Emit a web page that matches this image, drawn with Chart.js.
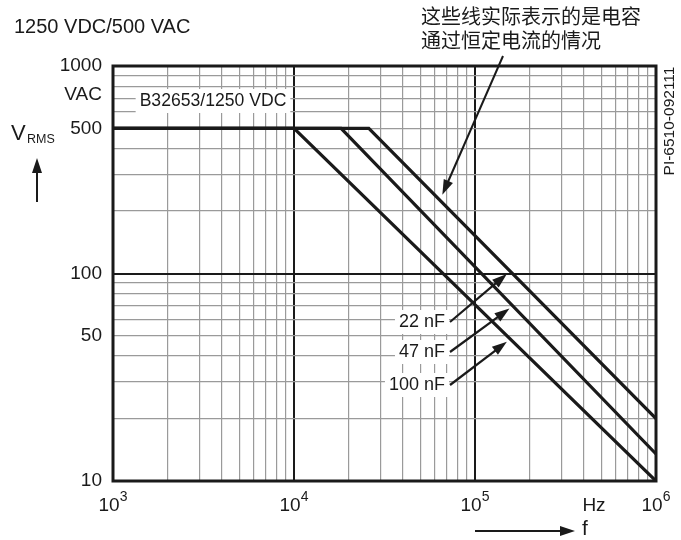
<!DOCTYPE html>
<html>
<head>
<meta charset="utf-8">
<script src="https://cdn.jsdelivr.net/npm/chart.js@4"></script>
<style>
  html, body { margin: 0; padding: 0; background: #fff; }
  canvas { display: block; }
</style>
</head>
<body>
<canvas id="chart" width="681" height="540"></canvas>
<script>
// frequency (Hz) / voltage (V rms) breakpoints of each curve
const freq100 = [1e3, 1e4, 1e6]
const volt100 = [500, 500, 10]
const freq47 = [1e3, 1.82e4, 1e6]
const volt47 = [500, 500, 13.5]
const freq22 = [1e3, 2.59e4, 1e6]
const volt22 = [500, 500, 20]

const capLabels = ['22 nF', '47 nF', '100 nF']
const yTickLabels = [10, 50, 100, 500, 1000]
const xDecades = [1e3, 1e4, 1e5, 1e6]
const xExponents = ['3', '4', '5', '6']

const FONT = '"Liberation Sans", Arial, sans-serif'
const CJK = '"Noto Sans CJK SC", sans-serif'

function gridValues(min, max) {
    let out = []
    for (let d = min; d < max; d *= 10) {
        for (let m = 1; m <= 9; m++) out.push(Number((m * d).toPrecision(3)))
    }
    out.push(max)
    return out
}

function isDecade(v) {
    let l = Math.log10(v)
    return Math.abs(l - Math.round(l)) < 1e-6
}

// log-log interpolation along a curve
function voltAt(freqs, volts, f) {
    for (let i = 0; i < freqs.length - 1; i++) {
        if (f >= freqs[i] && f <= freqs[i + 1]) {
            let t = (Math.log10(f) - Math.log10(freqs[i])) / (Math.log10(freqs[i + 1]) - Math.log10(freqs[i]))
            return Math.pow(10, Math.log10(volts[i]) + t * (Math.log10(volts[i + 1]) - Math.log10(volts[i])))
        }
    }
    return volts[volts.length - 1]
}

function toPoints(freqs, volts) {
    return freqs.map((f, i) => ({ x: f, y: volts[i] }))
}

function arrow(ctx, x1, y1, x2, y2, width) {
    let ang = Math.atan2(y2 - y1, x2 - x1)
    let head = 15, half = 5
    ctx.save()
    ctx.strokeStyle = '#1a1a1a'
    ctx.fillStyle = '#1a1a1a'
    ctx.lineWidth = width
    ctx.beginPath()
    ctx.moveTo(x1, y1)
    ctx.lineTo(x2 - Math.cos(ang) * head * 0.8, y2 - Math.sin(ang) * head * 0.8)
    ctx.stroke()
    ctx.beginPath()
    ctx.moveTo(x2, y2)
    ctx.lineTo(x2 - Math.cos(ang) * head - Math.sin(ang) * half, y2 - Math.sin(ang) * head + Math.cos(ang) * half)
    ctx.lineTo(x2 - Math.cos(ang) * head + Math.sin(ang) * half, y2 - Math.sin(ang) * head - Math.cos(ang) * half)
    ctx.closePath()
    ctx.fill()
    ctx.restore()
}

function boxedText(ctx, text, x, y, align) {
    let w = ctx.measureText(text).width
    let left = align === 'right' ? x - w : x - w / 2
    ctx.fillStyle = '#fff'
    ctx.fillRect(left - 4, y - 12, w + 8, 24)
    ctx.fillStyle = '#1a1a1a'
    ctx.textAlign = align
    ctx.fillText(text, x, y)
}

const decorations = {
    id: 'decorations',
    afterDatasetsDraw(chart) {
        let ctx = chart.ctx
        let area = chart.chartArea
        let xs = chart.scales.x, ys = chart.scales.y
        ctx.save()
        ctx.textBaseline = 'middle'

        // labels inside the plot
        ctx.font = '17.6px ' + FONT
        boxedText(ctx, 'B32653/1250 VDC', 213, 101, 'center')
        ctx.font = '18px ' + FONT
        let labelY = [322, 352, 385]
        capLabels.forEach((t, i) => boxedText(ctx, t, 445, labelY[i], 'right'))

        // frame
        ctx.strokeStyle = '#1a1a1a'
        ctx.lineWidth = 3
        ctx.strokeRect(area.left, area.top, area.right - area.left, area.bottom - area.top)

        // arrows to the curves
        let curves = [[freq22, volt22, 1.5e5], [freq47, volt47, 1.55e5], [freq100, volt100, 1.5e5]]
        curves.forEach((c, i) => {
            let tx = xs.getPixelForValue(c[2])
            let ty = ys.getPixelForValue(voltAt(c[0], c[1], c[2])) + 6
            arrow(ctx, 450, labelY[i], tx, ty, 2.2)
        })
        let bf = 6.6e4
        arrow(ctx, 503, 56, xs.getPixelForValue(bf), ys.getPixelForValue(voltAt(freq22, volt22, bf)) - 8, 2)

        // y tick labels
        ctx.fillStyle = '#1a1a1a'
        ctx.font = '19px ' + FONT
        ctx.textAlign = 'right'
        yTickLabels.forEach(v => ctx.fillText(String(v), 102, ys.getPixelForValue(v)))
        ctx.fillText('VAC', 102, ys.getPixelForValue(1000) + 29)

        // x tick labels with exponents
        xDecades.forEach((v, i) => {
            ctx.font = '19px ' + FONT
            let bw = ctx.measureText('10').width
            ctx.font = '14px ' + FONT
            let ew = ctx.measureText(xExponents[i]).width
            let x0 = xs.getPixelForValue(v) - (bw + ew) / 2
            ctx.textAlign = 'left'
            ctx.font = '19px ' + FONT
            ctx.fillText('10', x0, 506)
            ctx.font = '14px ' + FONT
            ctx.fillText(xExponents[i], x0 + bw, 497)
        })
        ctx.font = '19px ' + FONT
        ctx.textAlign = 'center'
        ctx.fillText('Hz', 594, 506)

        // axis names
        ctx.textAlign = 'left'
        ctx.font = '20px ' + FONT
        ctx.fillText('1250 VDC/500 VAC', 14, 27)
        ctx.font = '22px ' + FONT
        ctx.fillText('V', 11, 134)
        ctx.font = '12.5px ' + FONT
        ctx.fillText('RMS', 27, 140)
        arrow(ctx, 37, 202, 37, 158, 2)
        arrow(ctx, 475, 531, 575, 531, 2)
        ctx.font = '21px ' + FONT
        ctx.fillText('f', 582, 529)

        // note
        ctx.font = '20px ' + CJK
        ctx.fillText('这些线实际表示的是电容', 421, 16)
        ctx.fillText('通过恒定电流的情况', 421, 40)

        // drawing id
        ctx.save()
        ctx.translate(670, 121)
        ctx.rotate(-Math.PI / 2)
        ctx.textAlign = 'center'
        ctx.font = '15.5px ' + FONT
        ctx.fillText('PI-6510-092111', 0, 0)
        ctx.restore()

        ctx.restore()
    }
}

function gridOpts() {
    return {
        drawTicks: false,
        color: (c) => isDecade(c.tick.value) ? '#1a1a1a' : '#9a9a9a',
        lineWidth: (c) => isDecade(c.tick.value) ? 2 : 1.2
    }
}

const lineStyle = {
    showLine: true,
    pointRadius: 0,
    borderWidth: 3.2,
    borderColor: '#1a1a1a',
    fill: false
}

new Chart(document.getElementById('chart'), {
    type: 'scatter',
    data: {
        datasets: [
            { label: '100 nF', data: toPoints(freq100, volt100), ...lineStyle },
            { label: '47 nF', data: toPoints(freq47, volt47), ...lineStyle },
            { label: '22 nF', data: toPoints(freq22, volt22), ...lineStyle }
        ]
    },
    options: {
        responsive: false,
        animation: false,
        devicePixelRatio: 1,
        layout: { padding: { left: 113, top: 66, right: 25, bottom: 59 } },
        plugins: { legend: { display: false }, tooltip: { enabled: false } },
        scales: {
            x: {
                type: 'logarithmic',
                min: 1e3,
                max: 1e6,
                afterBuildTicks: (s) => { s.ticks = gridValues(1e3, 1e6).map(v => ({ value: v })) },
                ticks: { display: false },
                grid: gridOpts(),
                border: { display: false }
            },
            y: {
                type: 'logarithmic',
                min: 10,
                max: 1000,
                afterBuildTicks: (s) => { s.ticks = gridValues(10, 1000).map(v => ({ value: v })) },
                ticks: { display: false },
                grid: gridOpts(),
                border: { display: false }
            }
        }
    },
    plugins: [decorations]
})
</script>
</body>
</html>
